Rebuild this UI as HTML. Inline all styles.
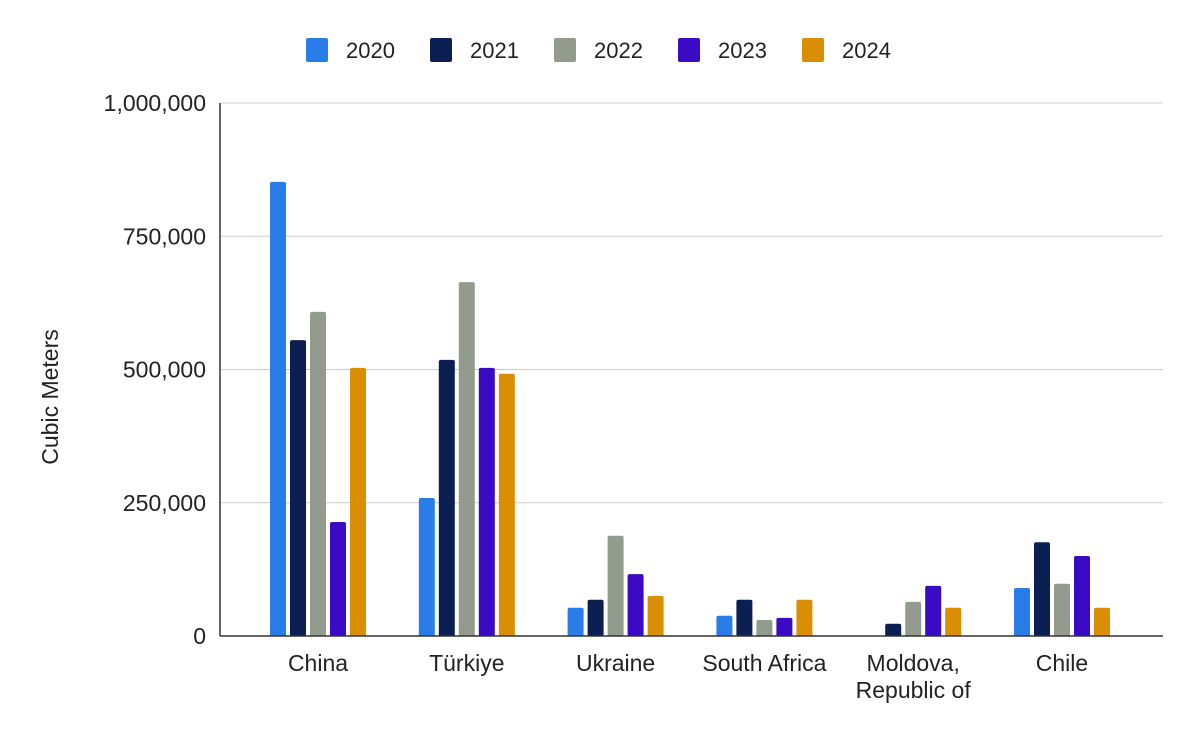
<!DOCTYPE html>
<html><head><meta charset="utf-8"><style>
body{margin:0;background:#fff;font-family:"Liberation Sans",Arial,sans-serif;}
svg text{font-family:"Liberation Sans",Arial,sans-serif;}
</style></head><body>
<svg id="chart" width="1200" height="742" viewBox="0 0 1200 742">
<g id="legend"></g>
<g id="grid"></g>
<g id="bars"></g>
<g id="axes"></g>
<text x="58" y="397" transform="rotate(-90 58 397)" text-anchor="middle" font-size="23" fill="#222">Cubic Meters</text>
</svg>
<script>
const categories = ["China", "Türkiye", "Ukraine", "South Africa", "Moldova,|Republic of", "Chile"];
const seriesNames = ["2020", "2021", "2022", "2023", "2024"];
const s2020 = [852000, 259000, 53000, 38000, 0, 90000];
const s2021 = [555000, 518000, 68000, 68000, 23000, 176000];
const s2022 = [608000, 664000, 188000, 30000, 64000, 98000];
const s2023 = [214000, 503000, 116000, 34000, 94000, 150000];
const s2024 = [503000, 492000, 75000, 68000, 53000, 53000];
const yTicks = [0, 250000, 500000, 750000, 1000000];
const yTickLabels = ["0", "250,000", "500,000", "750,000", "1,000,000"];

const series = [s2020, s2021, s2022, s2023, s2024];
const colors = ["#2a7de9", "#0b1f52", "#939b8f", "#3a0ac4", "#d98e04"];
const NS = "http://www.w3.org/2000/svg";
const X0 = 220, X1 = 1163, Y0 = 636, Y1 = 103, YMAX = 1000000;
const y = v => Y0 - (v / YMAX) * (Y0 - Y1);
const groupW = 148.8;
const xc = i => 318 + groupW * i;
function mk(tag, attrs, parent) { const e = document.createElementNS(NS, tag); for (const k in attrs) e.setAttribute(k, attrs[k]); parent.appendChild(e); return e; }

const grid = document.getElementById("grid"), axes = document.getElementById("axes"), bars = document.getElementById("bars"), legend = document.getElementById("legend");
yTicks.forEach((t, i) => {
  if (t > 0) {
    const l = mk("line", {x1: X0, x2: X1, y1: y(t), y2: y(t), stroke: "#cccccc", "stroke-width": 1}, grid);
    
    
  }
  const tx = mk("text", {x: 206, y: y(t) + 8, "text-anchor": "end", "font-size": 23, fill: "#222"}, axes);
  tx.textContent = yTickLabels[i];
  
  
});
const ya = mk("line", {x1: X0, x2: X0, y1: Y1, y2: Y0, stroke: "#333", "stroke-width": 1.5}, axes);


const xa = mk("line", {x1: X0, x2: X1, y1: Y0, y2: Y0, stroke: "#333", "stroke-width": 1.5}, axes);



const bw = 16, step = 20;
categories.forEach((c, i) => {
  series.forEach((s, j) => {
    const v = s[i];
    if (v <= 0) return;
    const bx = xc(i) + (j - 2) * step - bw / 2, top = y(v), h = Y0 - top;
    const r = Math.min(2, h / 2);
    const p = mk("path", {d: `M${bx},${Y0} V${top + r} Q${bx},${top} ${bx + r},${top} H${bx + bw - r} Q${bx + bw},${top} ${bx + bw},${top + r} V${Y0} Z`, fill: colors[j]}, bars);
    
    
  });
  const lines = c.split("|");
  lines.forEach((ln, k) => {
    const t = mk("text", {x: xc(i), y: 671 + k * 27, "text-anchor": "middle", "font-size": 23, fill: "#222"}, axes);
    t.textContent = ln;
    
    
  });
});

const lx = [306, 430, 554, 678, 802];
seriesNames.forEach((n, j) => {
  const g = mk("g", {}, legend);
  
  
  mk("rect", {x: lx[j], y: 38, width: 22, height: 24, rx: 2, fill: colors[j]}, g);
  const t = mk("text", {x: lx[j] + 40, y: 58, "font-size": 22, fill: "#222"}, g);
  t.textContent = n;
});
</script>
</body></html>
